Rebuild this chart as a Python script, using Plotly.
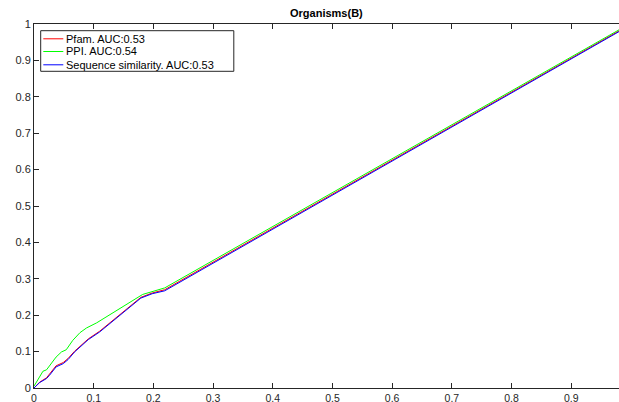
import plotly.graph_objects as go

title = "Organisms(B)"

fpr_pfam = [0, 0.0095, 0.021, 0.026, 0.037, 0.049, 0.057, 0.068, 0.091, 0.11, 0.179, 0.198, 0.219, 0.98]
tpr_pfam = [0, 0.016, 0.028, 0.038, 0.061, 0.070, 0.081, 0.101, 0.135, 0.156, 0.249, 0.261, 0.270, 0.981]

fpr_ppi = [0, 0.0095, 0.015, 0.021, 0.026, 0.037, 0.046, 0.054, 0.065, 0.077, 0.088, 0.105, 0.182, 0.219, 0.98]
tpr_ppi = [0.005, 0.03, 0.046, 0.05, 0.06, 0.085, 0.099, 0.105, 0.131, 0.152, 0.165, 0.179, 0.257, 0.275, 0.984]

fpr_seq = [0, 0.0095, 0.021, 0.026, 0.037, 0.049, 0.057, 0.068, 0.091, 0.11, 0.179, 0.198, 0.219, 0.98]
tpr_seq = [0, 0.015, 0.026, 0.035, 0.058, 0.067, 0.078, 0.099, 0.133, 0.154, 0.247, 0.259, 0.267, 0.979]

names = ["Pfam. AUC:0.53", "PPI. AUC:0.54", "Sequence similarity. AUC:0.53"]
colors = ["#ff0000", "#00ff00", "#0000ff"]

x_ticks = [0, 0.1, 0.2, 0.3, 0.4, 0.5, 0.6, 0.7, 0.8, 0.9]
y_ticks = [0, 0.1, 0.2, 0.3, 0.4, 0.5, 0.6, 0.7, 0.8, 0.9, 1]

W, H = 619, 402
ML, MR, MT, MB = 34, 0, 24, 14
PW, PH = W - ML - MR, H - MT - MB

fig = go.Figure()
for xs, ys, n, c in zip([fpr_pfam, fpr_ppi, fpr_seq], [tpr_pfam, tpr_ppi, tpr_seq], names, colors):
    fig.add_trace(go.Scatter(x=xs, y=ys, mode="lines", name=n,
                             line=dict(color=c, width=1), showlegend=False))

axcol = "#262626"
font = "Liberation Sans, Arial, Helvetica, sans-serif"

def px2paper(px, py):
    return (px - ML) / PW, 1 - (py - MT) / PH

shapes = []
annotations = []
x0, y0 = px2paper(40.7, 30.7)
x1, y1 = px2paper(233.8, 71.3)
shapes.append(dict(type="rect", xref="paper", yref="paper", x0=x0, y0=y0, x1=x1, y1=y1,
                   line=dict(color=axcol, width=1), fillcolor="white", layer="above"))
rows = [38.8, 51.5, 64.8]
for r, n, c in zip(rows, names, colors):
    lx0, ly = px2paper(43.3, r)
    lx1, _ = px2paper(63.3, r)
    shapes.append(dict(type="line", xref="paper", yref="paper", x0=lx0, x1=lx1, y0=ly, y1=ly,
                       line=dict(color=c, width=1), layer="above"))
    tx, _ = px2paper(64.7, r)
    annotations.append(dict(xref="paper", yref="paper", x=tx, y=ly, text=n, showarrow=False,
                            xanchor="left", yanchor="middle", xshift=-1,
                            font=dict(family=font, size=11, color="#000000")))

annotations.append(dict(xref="paper", yref="paper", x=0.5, y=1, yshift=3, text="<b>" + title + "</b>",
                        showarrow=False, xanchor="center", yanchor="bottom",
                        font=dict(family=font, size=11, color="#000000")))

fig.update_layout(
    width=W, height=H,
    margin=dict(l=ML, r=MR, t=MT, b=MB, pad=0, autoexpand=False),
    paper_bgcolor="white", plot_bgcolor="white",
    font=dict(family=font, size=11, color=axcol),
    shapes=shapes, annotations=annotations,
    xaxis=dict(range=[0, 0.98], tickvals=x_ticks, ticktext=[("%g" % v) for v in x_ticks],
               showgrid=False, zeroline=False, showline=True, linecolor=axcol, linewidth=1,
               mirror="ticks", ticks="inside", ticklen=5, tickcolor=axcol, tickwidth=1,
               automargin=False,
               tickfont=dict(family=font, size=10.5, color=axcol)),
    yaxis=dict(range=[0, 1], tickvals=y_ticks, ticktext=[("%g" % v) for v in y_ticks],
               showgrid=False, zeroline=False, showline=True, linecolor=axcol, linewidth=1,
               ticks="inside", ticklen=5, tickcolor=axcol, tickwidth=1, automargin=False,
               tickfont=dict(family=font, size=11, color=axcol)),
)

fig.write_html("out.html")
